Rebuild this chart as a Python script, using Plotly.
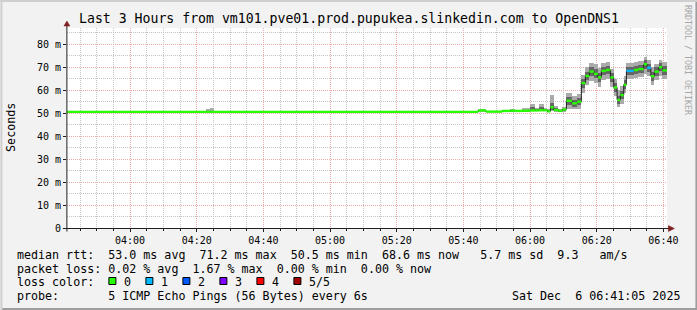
import plotly.graph_objects as go
import pandas as pd

# ---------------- data ----------------
DAY = "2025-12-06"
graph_start = "03:41:05"
graph_end = "06:41:05"

# start time of every median step
step_start = [
    "03:41:05", "04:22:54", "04:24:06", "04:25:18", "05:44:25", "05:46:49", "05:51:37", "05:54:06", "05:55:36", "05:57:37",
    "06:00:06", "06:01:36", "06:02:36", "06:04:06", "06:05:12", "06:06:06", "06:07:06", "06:08:30", "06:09:42", "06:10:54",
    "06:12:37", "06:14:07", "06:15:24", "06:16:36", "06:17:48", "06:19:09", "06:20:21", "06:21:24", "06:22:45", "06:24:06",
    "06:25:06", "06:26:07", "06:27:06", "06:28:06", "06:28:54", "06:31:06", "06:32:25", "06:34:06", "06:35:07", "06:36:15",
    "06:37:18", "06:38:39", "06:39:42",
]
# median rtt (ms)
median_ms = [
    50.5, 50.5, 50.5, 50.5, 51.1, 50.6, 50.9, 51.0, 50.9, 51.0,
    51.1, 51.1, 51.2, 51.2, 50.7, 52.5, 51.3, 50.9, 51.5, 55.3,
    54.2, 54.9, 63.0, 66.1, 68.0, 67.0, 65.5, 68.3, 68.7, 65.5,
    61.1, 55.7, 57.8, 62.3, 68.3, 68.7, 69.1, 71.2, 69.7, 66.0,
    68.0, 69.9, 68.5,
]
# lost pings per step (of 5)
lost_pings = [
    0, 0, 0, 0, 0, 0, 0, 0, 0, 0,
    0, 0, 0, 0, 0, 0, 0, 0, 0, 0,
    0, 0, 0, 0, 0, 0, 0, 0, 0, 0,
    0, 0, 0, 0, 1, 0, 0, 0, 1, 0,
    0, 0, 0,
]
# smoke: outer band (min..max ping) and inner band (2nd..4th ping), ms
smoke_lo = [
    None, 50.5, 50.5, None, 50.6, None, 50.6, 50.6, None, 50.6,
    50.7, 50.7, 50.7, 50.7, 50.5, 50.8, 50.6, 50.5, 50.6, 51.6,
    51.8, 51.9, 58.6, 62.2, 64.0, 63.2, 61.4, 64.5, 65.0, 61.4,
    57.2, 52.6, 54.0, 58.5, 64.9, 65.3, 65.6, 67.1, 66.1, 62.0,
    64.3, 66.3, 64.9,
]
smoke_hi = [
    None, 51.6, 52.2, None, 51.6, None, 51.5, 51.7, None, 52.3,
    53.9, 52.3, 53.9, 52.1, 51.6, 57.8, 53.0, 51.8, 52.4, 58.8,
    57.6, 58.2, 66.6, 69.8, 71.6, 71.2, 69.4, 71.9, 72.1, 69.0,
    64.9, 59.8, 61.7, 66.2, 71.6, 72.2, 72.8, 74.4, 73.0, 69.9,
    71.5, 73.2, 72.0,
]
inner_lo = [
    None, None, None, None, 50.9, None, 50.7, 50.8, None, 50.8,
    50.9, 50.9, 50.9, 50.9, 50.6, 51.3, 50.9, 50.7, 51.0, 53.5,
    52.8, 53.4, 60.7, 64.2, 66.1, 65.1, 63.4, 66.4, 66.9, 63.4,
    59.2, 54.0, 55.9, 60.4, 66.7, 67.0, 67.4, 69.2, 67.9, 64.0,
    66.2, 68.1, 66.7,
]
inner_hi = [
    None, None, None, None, 51.3, None, 51.2, 51.3, None, 51.5,
    52.6, 51.7, 52.6, 51.6, 51.1, 54.2, 52.0, 51.3, 51.9, 57.0,
    55.8, 56.6, 64.9, 68.0, 69.9, 69.0, 67.4, 70.1, 70.4, 67.3,
    63.0, 57.6, 59.7, 64.2, 70.0, 70.5, 71.0, 72.9, 71.4, 68.0,
    69.8, 71.6, 70.3,
]

x_tick_labels = ["04:00", "04:20", "04:40", "05:00", "05:20", "05:40", "06:00", "06:20", "06:40"]
y_tick_vals = [0, 10, 20, 30, 40, 50, 60, 70, 80]
y_tick_text = ["0", "10 m", "20 m", "30 m", "40 m", "50 m", "60 m", "70 m", "80 m"]

loss_labels = ["0", "1", "2", "3", "4", "5/5"]
loss_colors = ["#26ff00", "#00b8ff", "#0059ff", "#7e00ff", "#ff0000", "#a10000"]

title_text = "Last 3 Hours from vm101.pve01.prod.pupukea.slinkedin.com to OpenDNS1"
legend_lines = [
    "median rtt:  53.0 ms avg  71.2 ms max  50.5 ms min  68.6 ms now   5.7 ms sd  9.3   am/s",
    "packet loss: 0.02 % avg  1.67 % max  0.00 % min  0.00 % now",
    "loss color:",
    "probe:       5 ICMP Echo Pings (56 Bytes) every 6s",
]
date_text = "Sat Dec  6 06:41:05 2025"

# ---------------- layout constants ----------------
W, H = 697, 310
PL, PR, PT, PB = 66.6, 666.6, 28.0, 228.0
Y_MAX = (PB - PT) / 2.3
MONO = "DejaVu Sans Mono"
BACK = "#F2F2F2"
GRID = "#C4C4C4"
MGRID = "#F0AAAA"
AXIS = "#1F1F1F"
ARROW = "#7F1F1F"


def X(p):
    return (p - PL) / (PR - PL)


def Y(p):
    return (PB - p) / (PB - PT)


def T(s):
    return pd.Timestamp(f"{DAY} {s}")


def nb(s):
    return s.replace(" ", "\u00a0")


starts = [T(s) for s in step_start]
ends = starts[1:] + [T(graph_end)]

fig = go.Figure()


def smoke(lo, hi, color):
    xs, ws, bs, hs = [], [], [], []
    for s, e, a, b in zip(starts, ends, lo, hi):
        if a is None or b is None:
            continue
        xs.append(s + (e - s) / 2)
        ws.append((e - s).total_seconds() * 1000)
        bs.append(a)
        hs.append(b - a)
    fig.add_trace(go.Bar(x=xs, y=hs, base=bs, width=ws,
                         marker=dict(color=color, line=dict(width=0)),
                         hoverinfo="skip"))


smoke(smoke_lo, smoke_hi, "#ABABAB")
smoke(inner_lo, inner_hi, "#666666")

# dark median connector line
fig.add_trace(go.Scatter(x=starts + [ends[-1]], y=median_ms + [median_ms[-1]], mode="lines",
                         line=dict(color="#202020", width=1, shape="hv"), hoverinfo="skip"))

# coloured median bands by loss
for k, col in enumerate(loss_colors):
    xs, ys = [], []
    for s, e, v, l in zip(starts, ends, median_ms, lost_pings):
        if l == k:
            xs += [s, e, None]
            ys += [v, v, None]
    if xs:
        fig.add_trace(go.Scatter(x=xs, y=ys, mode="lines", line=dict(color=col, width=2.4),
                                 hoverinfo="skip"))

minor_x = [d for d in pd.date_range(T("03:45:00"), T("06:40:00"), freq="5min")
           if d.strftime("%H:%M") not in x_tick_labels]
minor_y = [5, 15, 25, 35, 45, 55, 65, 75, 85]

shapes = []
# frame (3d shade)
shapes.append(dict(type="rect", xref="paper", yref="paper", x0=X(0), x1=X(W), y0=Y(0), y1=Y(2),
                   fillcolor="#CFCFCF", line=dict(width=0), layer="below"))
shapes.append(dict(type="rect", xref="paper", yref="paper", x0=X(0), x1=X(2), y0=Y(0), y1=Y(H),
                   fillcolor="#CFCFCF", line=dict(width=0), layer="below"))
shapes.append(dict(type="rect", xref="paper", yref="paper", x0=X(2), x1=X(W), y0=Y(H - 2), y1=Y(H),
                   fillcolor="#9E9E9E", line=dict(width=0), layer="below"))
shapes.append(dict(type="rect", xref="paper", yref="paper", x0=X(W - 2), x1=X(W), y0=Y(2), y1=Y(H),
                   fillcolor="#9E9E9E", line=dict(width=0), layer="below"))
# axes
shapes.append(dict(type="line", xref="paper", yref="paper", x0=X(62.5), x1=X(669), y0=Y(228.5), y1=Y(228.5),
                   line=dict(color=AXIS, width=1)))
shapes.append(dict(type="line", xref="paper", yref="paper", x0=X(66.5), x1=X(66.5), y0=Y(231.5), y1=Y(25),
                   line=dict(color=AXIS, width=1)))
# arrows
shapes.append(dict(type="path", xref="paper", yref="paper",
                   path=f"M {X(668)} {Y(225.5)} L {X(674)} {Y(228.5)} L {X(668)} {Y(231.5)} Z",
                   fillcolor=ARROW, line=dict(color=ARROW, width=0.5)))
shapes.append(dict(type="path", xref="paper", yref="paper",
                   path=f"M {X(63.5)} {Y(26)} L {X(66.5)} {Y(21)} L {X(69.5)} {Y(26)} Z",
                   fillcolor=ARROW, line=dict(color=ARROW, width=0.5)))

annotations = []


def text(x, y, s, size, xanchor="left", angle=0, color="black"):
    annotations.append(dict(x=X(x), y=Y(y), xref="paper", yref="paper", text=nb(s), showarrow=False,
                            xanchor=xanchor, yanchor="middle", textangle=angle,
                            font=dict(family=MONO, size=size, color=color)))


text(348.5, 18.5, title_text, 13.2, xanchor="center")
text(10.5, 127, "Seconds", 11.66, xanchor="center", angle=-90)
text(687.5, 60, "RRDTOOL / TOBI OETIKER", 8.3, xanchor="center", angle=90, color="#A6A6A6")
legend_y = [254.5, 268.5, 282, 296]
for s, yy in zip(legend_lines, legend_y):
    text(15, yy, s, 11.66)
text(682, legend_y[3], date_text, 11.66, xanchor="right")

for i, (lab, col) in enumerate(zip(loss_labels, loss_colors)):
    bx = 108.5 + 37 * i
    shapes.append(dict(type="rect", xref="paper", yref="paper", x0=X(bx), x1=X(bx + 7), y0=Y(277.5), y1=Y(284.5),
                       fillcolor=col, line=dict(color="black", width=1)))
    text(bx + 13.5, legend_y[2], lab, 11.66)

fig.update_layout(
    width=W, height=H,
    margin=dict(l=PL, r=W - PR, t=PT, b=H - PB, autoexpand=False),
    paper_bgcolor=BACK, plot_bgcolor="white",
    showlegend=False, barmode="overlay", bargap=0,
    shapes=shapes, annotations=annotations,
    xaxis=dict(type="date", range=[T(graph_start), T(graph_end)],
               tickmode="array", tickvals=[T(s) for s in x_tick_labels], ticktext=x_tick_labels,
               ticks="outside", ticklen=3, tickcolor=AXIS, tickwidth=1,
               tickfont=dict(family=MONO, size=10, color="black"),
               showgrid=True, gridcolor=MGRID, griddash="1px,1px", gridwidth=1,
               minor=dict(tickmode="array", tickvals=minor_x, showgrid=True, gridcolor=GRID,
                          griddash="1px,1px", gridwidth=1, ticks="outside", ticklen=2, tickcolor=AXIS),
               showline=False, zeroline=False, fixedrange=True),
    yaxis=dict(range=[0, Y_MAX], tickmode="array", tickvals=y_tick_vals, ticktext=y_tick_text,
               ticks="outside", ticklen=3, tickcolor=AXIS, tickwidth=1,
               tickfont=dict(family=MONO, size=10, color="black"),
               showgrid=True, gridcolor=MGRID, griddash="1px,1px", gridwidth=1,
               minor=dict(tickmode="array", tickvals=minor_y, showgrid=True, gridcolor=GRID,
                          griddash="1px,1px", gridwidth=1),
               showline=False, zeroline=False, fixedrange=True),
)

fig.write_html("out.html", config={"displayModeBar": False})
